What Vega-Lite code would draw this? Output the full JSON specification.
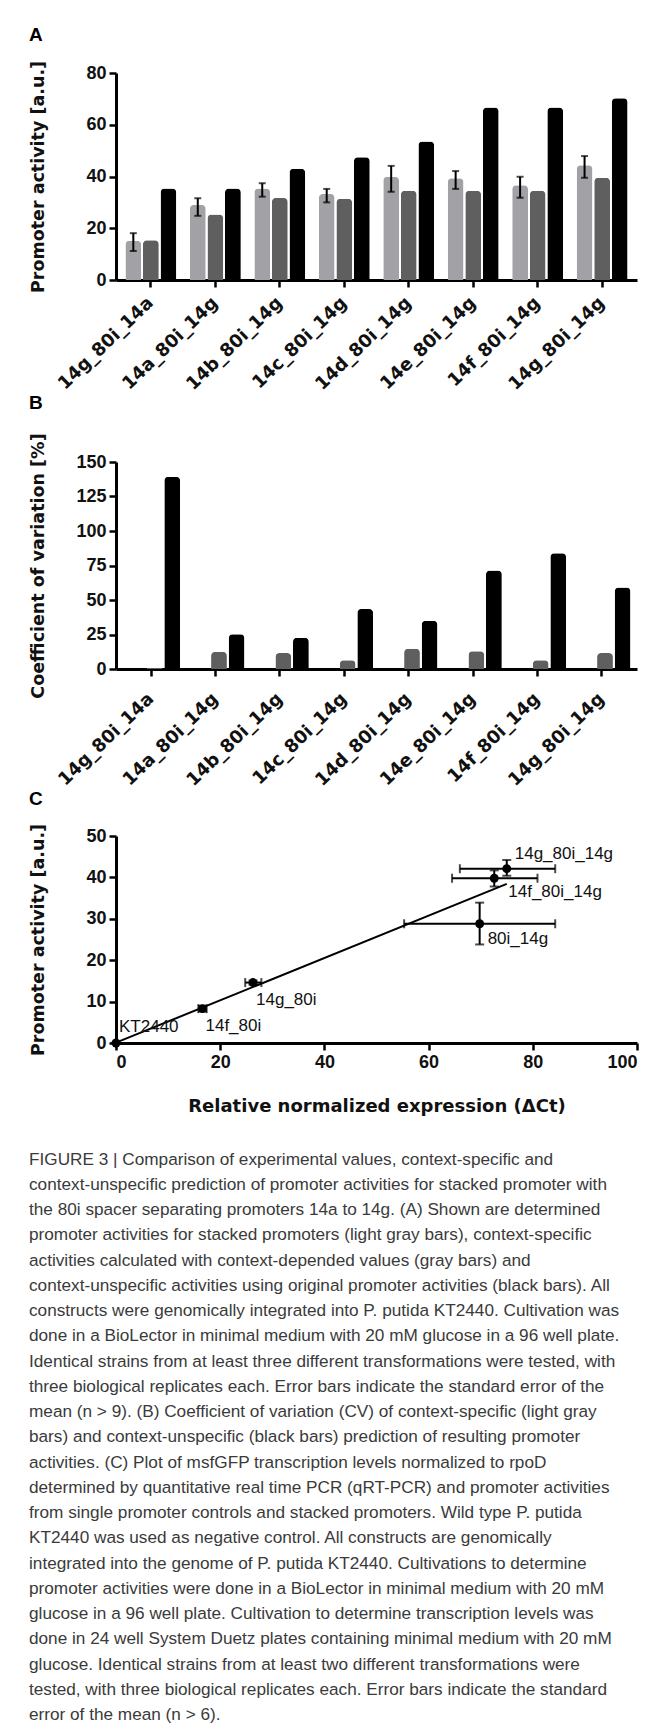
{
  "$schema": "https://vega.github.io/schema/vega-lite/v6.json",
  "background": "white",
  "padding": {"left": 28, "top": 26, "right": 10, "bottom": 6},
  "spacing": 0,
  "config": {
    "view": {"stroke": null},
    "axis": {
      "domainColor": "#000", "domainWidth": 3, "tickColor": "#000", "tickWidth": 2.5, "tickSize": 7,
      "labelFont": "Liberation Sans", "labelFontWeight": "bold", "labelFontSize": 18, "labelColor": "#111",
      "titleFont": "DejaVu Sans", "titleFontSize": 17.5, "titleFontWeight": "bold", "titleColor": "#111",
      "grid": false, "labelPadding": 3
    },
    "axisY": {"minExtent": 40, "maxExtent": 40, "titlePadding": 29},
    "title": {"font": "Liberation Sans", "fontSize": 19, "fontWeight": "bold", "anchor": "start", "frame": "bounds", "color": "#000"}
  },
  "title": {
    "text": [
      "FIGURE 3 | Comparison of experimental values, context-specific and",
      "context-unspecific prediction of promoter activities for stacked promoter with",
      "the 80i spacer separating promoters 14a to 14g. (A) Shown are determined",
      "promoter activities for stacked promoters (light gray bars), context-specific",
      "activities calculated with context-depended values (gray bars) and",
      "context-unspecific activities using original promoter activities (black bars). All",
      "constructs were genomically integrated into P. putida KT2440. Cultivation was",
      "done in a BioLector in minimal medium with 20 mM glucose in a 96 well plate.",
      "Identical strains from at least three different transformations were tested, with",
      "three biological replicates each. Error bars indicate the standard error of the",
      "mean (n > 9). (B) Coefficient of variation (CV) of context-specific (light gray",
      "bars) and context-unspecific (black bars) prediction of resulting promoter",
      "activities. (C) Plot of msfGFP transcription levels normalized to rpoD",
      "determined by quantitative real time PCR (qRT-PCR) and promoter activities",
      "from single promoter controls and stacked promoters. Wild type P. putida",
      "KT2440 was used as negative control. All constructs are genomically",
      "integrated into the genome of P. putida KT2440. Cultivations to determine",
      "promoter activities were done in a BioLector in minimal medium with 20 mM",
      "glucose in a 96 well plate. Cultivation to determine transcription levels was",
      "done in 24 well System Duetz plates containing minimal medium with 20 mM",
      "glucose. Identical strains from at least two different transformations were",
      "tested, with three biological replicates each. Error bars indicate the standard",
      "error of the mean (n > 6)."
    ],
    "orient": "bottom", "anchor": "start", "frame": "bounds",
    "font": "Liberation Sans", "fontSize": 17.2, "fontWeight": "normal", "color": "#3a3a3a",
    "lineHeight": 25.25, "offset": 35.5, "dx": 0
  },
  "vconcat": [
    {
      "title": {"text": "A", "offset": 15},
      "width": 521, "height": 207,
      "data": {"values": [
        {"construct": "14g_80i_14a", "series": "measured", "value": 15.2, "lo": 11.2, "hi": 18.1},
        {"construct": "14g_80i_14a", "series": "context-specific", "value": 15.4},
        {"construct": "14g_80i_14a", "series": "context-unspecific", "value": 35.4},
        {"construct": "14a_80i_14g", "series": "measured", "value": 29.0, "lo": 24.8, "hi": 31.6},
        {"construct": "14a_80i_14g", "series": "context-specific", "value": 25.3},
        {"construct": "14a_80i_14g", "series": "context-unspecific", "value": 35.4},
        {"construct": "14b_80i_14g", "series": "measured", "value": 35.4, "lo": 32.2, "hi": 37.4},
        {"construct": "14b_80i_14g", "series": "context-specific", "value": 31.7},
        {"construct": "14b_80i_14g", "series": "context-unspecific", "value": 43.0},
        {"construct": "14c_80i_14g", "series": "measured", "value": 33.2, "lo": 30.0, "hi": 35.2},
        {"construct": "14c_80i_14g", "series": "context-specific", "value": 31.4},
        {"construct": "14c_80i_14g", "series": "context-unspecific", "value": 47.4},
        {"construct": "14d_80i_14g", "series": "measured", "value": 39.9, "lo": 34.1, "hi": 44.1},
        {"construct": "14d_80i_14g", "series": "context-specific", "value": 34.5},
        {"construct": "14d_80i_14g", "series": "context-unspecific", "value": 53.5},
        {"construct": "14e_80i_14g", "series": "measured", "value": 39.3, "lo": 35.2, "hi": 42.1},
        {"construct": "14e_80i_14g", "series": "context-specific", "value": 34.5},
        {"construct": "14e_80i_14g", "series": "context-unspecific", "value": 66.7},
        {"construct": "14f_80i_14g", "series": "measured", "value": 36.6, "lo": 31.8, "hi": 39.9},
        {"construct": "14f_80i_14g", "series": "context-specific", "value": 34.5},
        {"construct": "14f_80i_14g", "series": "context-unspecific", "value": 66.7},
        {"construct": "14g_80i_14g", "series": "measured", "value": 44.3, "lo": 39.5, "hi": 47.9},
        {"construct": "14g_80i_14g", "series": "context-specific", "value": 39.5},
        {"construct": "14g_80i_14g", "series": "context-unspecific", "value": 70.2}
      ]},
      "encoding": {
        "x": {"field": "construct", "type": "nominal", "sort": null,
              "scale": {"paddingInner": 0.21, "paddingOuter": 0.146},
              "axis": {"title": null, "labelAngle": -44, "labelAlign": "right", "labelBaseline": "middle",
                       "labelFont": "DejaVu Sans", "labelFontSize": 18, "labelPadding": 13, "labelOverlap": false}},
        "xOffset": {"field": "series", "type": "nominal", "sort": ["measured", "context-specific", "context-unspecific"],
                    "scale": {"domain": ["measured", "context-specific", "context-unspecific"], "paddingInner": 0.1}}
      },
      "layer": [
        {"mark": {"type": "bar", "cornerRadiusEnd": 4},
         "encoding": {
           "y": {"field": "value", "type": "quantitative", "scale": {"domain": [0, 80], "nice": false},
                 "axis": {"title": "Promoter activity [a.u.]", "values": [0, 20, 40, 60, 80]}},
           "color": {"field": "series", "type": "nominal",
                     "scale": {"domain": ["measured", "context-specific", "context-unspecific"], "range": ["#a2a2a6", "#5f5f5f", "#000000"]},
                     "legend": null}
         }},
        {"transform": [{"filter": "datum.series === 'measured'"}],
         "mark": {"type": "rule", "color": "#000", "strokeWidth": 2},
         "encoding": {"y": {"field": "lo", "type": "quantitative"}, "y2": {"field": "hi"}}},
        {"transform": [{"filter": "datum.series === 'measured'"}],
         "mark": {"type": "tick", "color": "#000", "thickness": 2, "size": 7, "orient": "horizontal"},
         "encoding": {"y": {"field": "lo", "type": "quantitative"}}},
        {"transform": [{"filter": "datum.series === 'measured'"}],
         "mark": {"type": "tick", "color": "#000", "thickness": 2, "size": 7, "orient": "horizontal"},
         "encoding": {"y": {"field": "hi", "type": "quantitative"}}}
      ]
    },
    {
      "title": {"text": "B", "offset": 19.5},
      "width": 521, "height": 207,
      "data": {"values": [
        {"construct": "14g_80i_14a", "series": "context-specific", "cv": 0.7},
        {"construct": "14g_80i_14a", "series": "context-unspecific", "cv": 139.3},
        {"construct": "14a_80i_14g", "series": "context-specific", "cv": 12.4},
        {"construct": "14a_80i_14g", "series": "context-unspecific", "cv": 25.2},
        {"construct": "14b_80i_14g", "series": "context-specific", "cv": 11.6},
        {"construct": "14b_80i_14g", "series": "context-unspecific", "cv": 22.6},
        {"construct": "14c_80i_14g", "series": "context-specific", "cv": 6.3},
        {"construct": "14c_80i_14g", "series": "context-unspecific", "cv": 43.4},
        {"construct": "14d_80i_14g", "series": "context-specific", "cv": 14.6},
        {"construct": "14d_80i_14g", "series": "context-unspecific", "cv": 34.9},
        {"construct": "14e_80i_14g", "series": "context-specific", "cv": 12.9},
        {"construct": "14e_80i_14g", "series": "context-unspecific", "cv": 71.3},
        {"construct": "14f_80i_14g", "series": "context-specific", "cv": 6.3},
        {"construct": "14f_80i_14g", "series": "context-unspecific", "cv": 83.9},
        {"construct": "14g_80i_14g", "series": "context-specific", "cv": 11.6},
        {"construct": "14g_80i_14g", "series": "context-unspecific", "cv": 59.0}
      ]},
      "mark": {"type": "bar", "cornerRadiusEnd": 4},
      "encoding": {
        "x": {"field": "construct", "type": "nominal", "sort": null,
              "scale": {"paddingInner": 0.312, "paddingOuter": 0.205},
              "axis": {"title": null, "labelAngle": -44, "labelAlign": "right", "labelBaseline": "middle",
                       "labelFont": "DejaVu Sans", "labelFontSize": 18, "labelPadding": 20, "labelOverlap": false}},
        "xOffset": {"field": "series", "type": "nominal", "sort": ["context-specific", "context-unspecific"],
                    "scale": {"paddingInner": 0.17}},
        "y": {"field": "cv", "type": "quantitative", "scale": {"domain": [0, 150], "nice": false},
              "axis": {"title": "Coefficient of variation [%]", "values": [0, 25, 50, 75, 100, 125, 150]}},
        "color": {"field": "series", "type": "nominal",
                  "scale": {"domain": ["context-specific", "context-unspecific"], "range": ["#5f5f5f", "#000000"]},
                  "legend": null}
      }
    },
    {
      "title": {"text": "C", "offset": 14},
      "width": 521, "height": 207,
      "data": {"values": [
        {"strain": "KT2440", "expr": 0, "act": 0, "xlo": 0, "xhi": 0, "ylo": 0, "yhi": 0},
        {"strain": "14f_80i", "expr": 16.6, "act": 8.3, "xlo": 15.8, "xhi": 17.4, "ylo": 7.6, "yhi": 9.0},
        {"strain": "14g_80i", "expr": 26.3, "act": 14.6, "xlo": 24.8, "xhi": 27.9, "ylo": 14.1, "yhi": 15.1},
        {"strain": "80i_14g", "expr": 69.8, "act": 28.8, "xlo": 55.3, "xhi": 84.3, "ylo": 23.8, "yhi": 33.9},
        {"strain": "14f_80i_14g", "expr": 72.6, "act": 39.8, "xlo": 64.5, "xhi": 80.9, "ylo": 37.8, "yhi": 41.7},
        {"strain": "14g_80i_14g", "expr": 75.0, "act": 42.1, "xlo": 66.0, "xhi": 84.3, "ylo": 40.4, "yhi": 44.2}
      ]},
      "layer": [
        {"transform": [{"regression": "act", "on": "expr", "extent": [0, 75]}],
         "mark": {"type": "line", "color": "#000", "strokeWidth": 2},
         "encoding": {
           "x": {"field": "expr", "type": "quantitative", "scale": {"domain": [0, 100], "nice": false},
                 "axis": {"title": "Relative normalized expression (\u0394Ct)", "values": [0, 20, 40, 60, 80, 100],
                          "titlePadding": 26, "titleFont": "DejaVu Sans", "titleFontSize": 18}},
           "y": {"field": "act", "type": "quantitative", "scale": {"domain": [0, 50], "nice": false},
                 "axis": {"title": "Promoter activity [a.u.]", "values": [0, 10, 20, 30, 40, 50]}}
         }},
        {"mark": {"type": "rule", "color": "#000", "strokeWidth": 2},
         "encoding": {"x": {"field": "xlo", "type": "quantitative"}, "x2": {"field": "xhi"}, "y": {"field": "act", "type": "quantitative"}}},
        {"mark": {"type": "tick", "color": "#000", "thickness": 2, "size": 9, "orient": "vertical"},
         "encoding": {"x": {"field": "xlo", "type": "quantitative"}, "y": {"field": "act", "type": "quantitative"}}},
        {"mark": {"type": "tick", "color": "#000", "thickness": 2, "size": 9, "orient": "vertical"},
         "encoding": {"x": {"field": "xhi", "type": "quantitative"}, "y": {"field": "act", "type": "quantitative"}}},
        {"mark": {"type": "rule", "color": "#000", "strokeWidth": 2},
         "encoding": {"x": {"field": "expr", "type": "quantitative"}, "y": {"field": "ylo", "type": "quantitative"}, "y2": {"field": "yhi"}}},
        {"mark": {"type": "tick", "color": "#000", "thickness": 2, "size": 9, "orient": "horizontal"},
         "encoding": {"x": {"field": "expr", "type": "quantitative"}, "y": {"field": "ylo", "type": "quantitative"}}},
        {"mark": {"type": "tick", "color": "#000", "thickness": 2, "size": 9, "orient": "horizontal"},
         "encoding": {"x": {"field": "expr", "type": "quantitative"}, "y": {"field": "yhi", "type": "quantitative"}}},
        {"mark": {"type": "point", "filled": true, "color": "#000", "size": 80, "opacity": 1},
         "encoding": {"x": {"field": "expr", "type": "quantitative"}, "y": {"field": "act", "type": "quantitative"}}},
        {"transform": [{"filter": "datum.strain === '14g_80i_14g'"}],
         "mark": {"type": "text", "align": "left", "baseline": "middle", "dx": 8, "dy": -15, "font": "Liberation Sans", "fontSize": 17, "color": "#111"},
         "encoding": {"x": {"field": "expr", "type": "quantitative"}, "y": {"field": "act", "type": "quantitative"}, "text": {"field": "strain"}}},
        {"transform": [{"filter": "datum.strain === 'KT2440'"}],
         "mark": {"type": "text", "align": "left", "baseline": "middle", "dx": 3, "dy": -16, "font": "Liberation Sans", "fontSize": 17, "color": "#111"},
         "encoding": {"x": {"field": "expr", "type": "quantitative"}, "y": {"field": "act", "type": "quantitative"}, "text": {"field": "strain"}}},
        {"transform": [{"filter": "datum.strain === '14f_80i_14g'"}],
         "mark": {"type": "text", "align": "left", "baseline": "middle", "dx": 14, "dy": 14, "font": "Liberation Sans", "fontSize": 17, "color": "#111"},
         "encoding": {"x": {"field": "expr", "type": "quantitative"}, "y": {"field": "act", "type": "quantitative"}, "text": {"field": "strain"}}},
        {"transform": [{"filter": "datum.strain === '80i_14g'"}],
         "mark": {"type": "text", "align": "left", "baseline": "middle", "dx": 8, "dy": 15, "font": "Liberation Sans", "fontSize": 17, "color": "#111"},
         "encoding": {"x": {"field": "expr", "type": "quantitative"}, "y": {"field": "act", "type": "quantitative"}, "text": {"field": "strain"}}},
        {"transform": [{"filter": "datum.strain === '14g_80i' || datum.strain === '14f_80i'"}],
         "mark": {"type": "text", "align": "left", "baseline": "middle", "dx": 3, "dy": 17, "font": "Liberation Sans", "fontSize": 17, "color": "#111"},
         "encoding": {"x": {"field": "expr", "type": "quantitative"}, "y": {"field": "act", "type": "quantitative"}, "text": {"field": "strain"}}}
      ]
    }
  ]
}
